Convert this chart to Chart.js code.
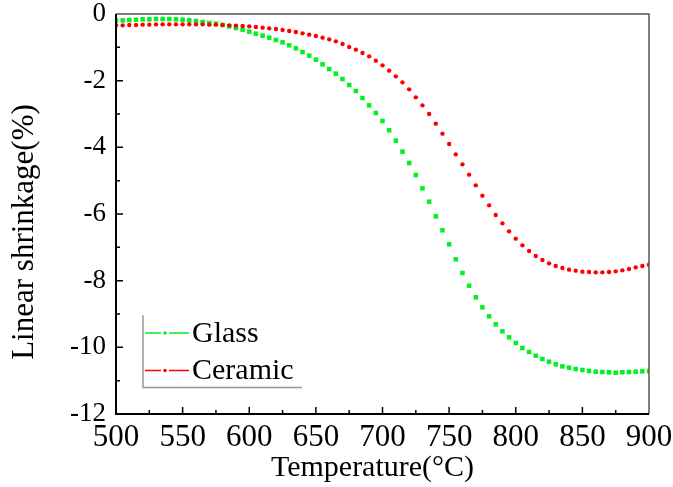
<!DOCTYPE html>
<html>
<head>
<meta charset="utf-8">
<script src="https://cdn.jsdelivr.net/npm/chart.js@4/dist/chart.umd.min.js"></script>
<style>
  html, body { margin: 0; padding: 0; background: #fff; }
  #wrap { width: 673px; height: 487px; }
</style>
</head>
<body>
<div id="wrap"><canvas id="myChart" width="673" height="487"></canvas></div>
<script>
const ctx = document.getElementById('myChart');

// temperature (°C), one reading every 5 degrees
const temps = [
  500, 505, 510, 515, 520, 525, 530, 535, 540, 545,
  550, 555, 560, 565, 570, 575, 580, 585, 590, 595,
  600, 605, 610, 615, 620, 625, 630, 635, 640, 645,
  650, 655, 660, 665, 670, 675, 680, 685, 690, 695,
  700, 705, 710, 715, 720, 725, 730, 735, 740, 745,
  750, 755, 760, 765, 770, 775, 780, 785, 790, 795,
  800, 805, 810, 815, 820, 825, 830, 835, 840, 845,
  850, 855, 860, 865, 870, 875, 880, 885, 890, 895,
  900
];

// linear shrinkage (%)
const glass = [
  -0.20, -0.19, -0.18, -0.17, -0.16, -0.16, -0.15, -0.15, -0.15, -0.16,
  -0.17, -0.19, -0.21, -0.24, -0.27, -0.29, -0.33, -0.37, -0.42, -0.47,
  -0.53, -0.59, -0.65, -0.71, -0.78, -0.85, -0.94, -1.03, -1.14, -1.25,
  -1.37, -1.51, -1.65, -1.79, -1.95, -2.13, -2.31, -2.52, -2.74, -2.97,
  -3.21, -3.49, -3.80, -4.13, -4.47, -4.83, -5.23, -5.63, -6.07, -6.49,
  -6.91, -7.36, -7.77, -8.15, -8.50, -8.80, -9.07, -9.31, -9.52, -9.70,
  -9.87, -10.02, -10.14, -10.25, -10.35, -10.43, -10.51, -10.57, -10.61, -10.65,
  -10.68, -10.71, -10.73, -10.74, -10.75, -10.76, -10.75, -10.74, -10.73, -10.72,
  -10.71
];
const ceramic = [
  -0.34, -0.34, -0.33, -0.33, -0.32, -0.32, -0.31, -0.31, -0.31, -0.31,
  -0.31, -0.31, -0.31, -0.31, -0.32, -0.32, -0.33, -0.34, -0.35, -0.36,
  -0.37, -0.39, -0.41, -0.43, -0.45, -0.48, -0.51, -0.54, -0.58, -0.62,
  -0.66, -0.71, -0.76, -0.82, -0.90, -0.99, -1.07, -1.17, -1.27, -1.40,
  -1.54, -1.70, -1.87, -2.05, -2.26, -2.50, -2.74, -3.00, -3.29, -3.59,
  -3.90, -4.21, -4.51, -4.82, -5.14, -5.45, -5.74, -6.03, -6.28, -6.52,
  -6.74, -6.94, -7.11, -7.26, -7.38, -7.48, -7.56, -7.62, -7.67, -7.70,
  -7.73, -7.74, -7.75, -7.75, -7.74, -7.72, -7.69, -7.65, -7.60, -7.56,
  -7.52
];

const seriesNames = ['Glass', 'Ceramic'];
const seriesColors = ['#00f020', '#ff0000'];
const xTitle = 'Temperature(°C)';
const yTitle = 'Linear shrinkage(%)';

const serif = "'Liberation Serif', 'Times New Roman', serif";

const toPoints = vals => temps.map((t, i) => ({x: t, y: vals[i]}));

// frame, inward ticks, axis titles and the little legend box
const decorations = {
  id: 'decorations',
  afterDatasetsDraw(chart) {
    const c = chart.ctx, a = chart.chartArea;
    const x = chart.scales.x, y = chart.scales.y;
    c.save();
    c.lineCap = 'butt';

    c.strokeStyle = '#555';
    c.lineWidth = 1.5;
    c.beginPath();
    c.moveTo(a.left, a.top);
    c.lineTo(a.right, a.top);
    c.lineTo(a.right, a.bottom);
    c.stroke();

    c.strokeStyle = '#000';
    c.lineWidth = 2;
    c.beginPath();
    c.moveTo(a.left, a.top);
    c.lineTo(a.left, a.bottom);
    c.lineTo(a.right, a.bottom);
    c.stroke();

    c.lineWidth = 1.5;
    c.beginPath();
    for (let t = 525; t < 900; t += 25) {
      const px = x.getPixelForValue(t);
      const len = t % 50 === 0 ? 7 : 4;
      c.moveTo(px, a.bottom);
      c.lineTo(px, a.bottom - len);
    }
    for (let v = -11; v < 0; v++) {
      const py = y.getPixelForValue(v);
      const len = v % 2 === 0 ? 7 : 4;
      c.moveTo(a.left, py);
      c.lineTo(a.left + len, py);
    }
    c.stroke();

    // axis titles (sit a little off-centre in the original)
    c.fillStyle = '#000';
    c.textAlign = 'center';
    c.textBaseline = 'alphabetic';
    c.font = '30px ' + serif;
    c.fillText(xTitle, (a.left + a.right) / 2 - 10, a.bottom + 62);
    c.save();
    c.translate(33, (a.top + a.bottom) / 2 + 18);
    c.rotate(-Math.PI / 2);
    c.font = '31px ' + serif;
    c.fillText(yTitle, 0, 0);
    c.restore();

    // legend
    const lx = a.left + 27, top = a.top + 301, bottom = a.top + 373.5, right = a.left + 186;
    c.strokeStyle = '#999';
    c.lineWidth = 1.5;
    c.beginPath();
    c.moveTo(lx, top);
    c.lineTo(lx, bottom);
    c.lineTo(right, bottom);
    c.stroke();

    const rows = [a.top + 319, a.top + 356.5];
    chart.data.datasets.forEach((ds, i) => {
      const ry = rows[i];
      c.strokeStyle = ds.borderColor;
      c.fillStyle = ds.borderColor;
      c.lineWidth = 1.6;
      c.beginPath();
      c.moveTo(lx + 2, ry); c.lineTo(lx + 18, ry);
      c.moveTo(lx + 26, ry); c.lineTo(lx + 46, ry);
      c.stroke();
      c.beginPath();
      c.arc(lx + 22, ry, 1.8, 0, Math.PI * 2);
      c.fill();
      c.fillStyle = '#000';
      c.font = '30px ' + serif;
      c.textAlign = 'left';
      c.textBaseline = 'middle';
      c.fillText(ds.label, lx + 49, ry + 1);
    });
    c.restore();
  }
};

new Chart(ctx, {
  type: 'scatter',
  data: {
    datasets: [{
      label: seriesNames[0],
      data: toPoints(glass),
      borderColor: seriesColors[0],
      backgroundColor: seriesColors[0],
      pointStyle: 'rect',
      pointRadius: 3.2,
      pointBorderWidth: 0,
      showLine: false,
      order: 1
    }, {
      label: seriesNames[1],
      data: toPoints(ceramic),
      borderColor: seriesColors[1],
      backgroundColor: seriesColors[1],
      pointStyle: 'circle',
      pointRadius: 2.2,
      pointBorderWidth: 0,
      showLine: false,
      order: 0
    }]
  },
  options: {
    responsive: false,
    animation: false,
    layout: {
      padding: {left: 4, top: 14, right: 24, bottom: 0}
    },
    plugins: {
      legend: {display: false},
      tooltip: {enabled: false}
    },
    scales: {
      x: {
        type: 'linear',
        min: 500,
        max: 900,
        afterFit: s => { s.height = 73; s.paddingLeft = 0; s.paddingRight = 0; },
        grid: {display: false, drawTicks: false},
        border: {display: false},
        ticks: {
          stepSize: 50,
          padding: 8,
          color: '#000',
          font: {family: serif, size: 31, lineHeight: 1}
        }
      },
      y: {
        min: -12,
        max: 0,
        afterFit: s => { s.width = 112; s.paddingTop = 0; s.paddingBottom = 0; },
        grid: {display: false, drawTicks: false},
        border: {display: false},
        ticks: {
          stepSize: 2,
          padding: 10,
          color: '#000',
          font: {family: serif, size: 27, lineHeight: 1}
        }
      }
    }
  },
  plugins: [decorations]
});
</script>
</body>
</html>
